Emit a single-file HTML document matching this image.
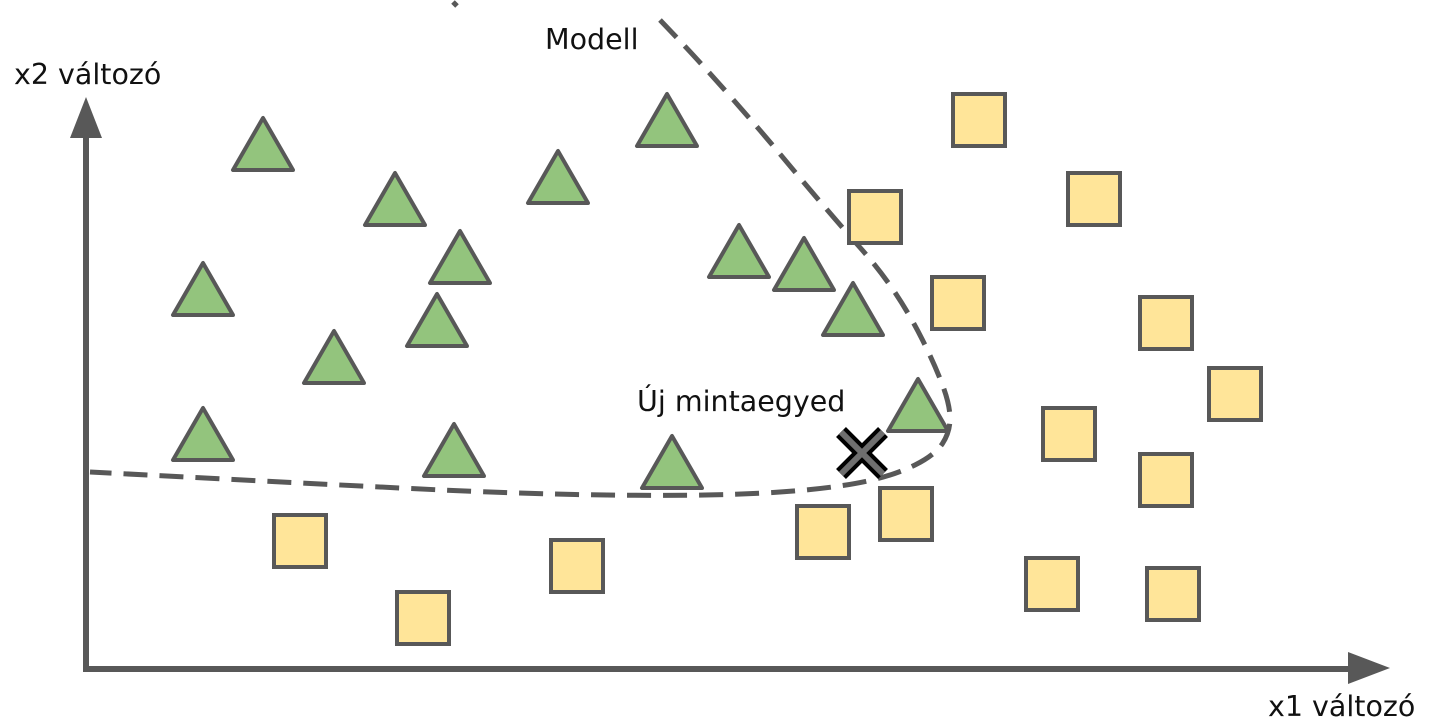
<!DOCTYPE html>
<html><head><meta charset="utf-8"><style>
html,body{margin:0;padding:0;background:#fff;}
svg{display:block;font-family:"DejaVu Sans","Liberation Sans",sans-serif;}
</style></head><body>
<svg id="chart" width="1439" height="728" viewBox="0 0 1439 728">
<g id="model-curve-layer"></g>
<g id="axes">
<line x1="86" y1="669" x2="86" y2="136" stroke="#585858" stroke-width="6"/>
<polygon points="86,97 70,138 102,138" fill="#585858"/>
<line x1="83" y1="669" x2="1350" y2="669" stroke="#585858" stroke-width="6"/>
<polygon points="1390,668 1348,652 1348,684" fill="#585858"/>
</g>
<g id="marks"></g>
<text x="14" y="84" font-size="28.5" fill="#111">x2 változó</text>
<text x="1268" y="716" font-size="28.5" fill="#111">x1 változó</text>
<text x="545" y="49" font-size="28.5" fill="#111">Modell</text>
<text x="637" y="411" font-size="28.5" fill="#111">Új mintaegyed</text>
</svg>
<script>
// data in chart units (origin at axis corner, y up)
const triX = [177, 309, 472, 581, 374, 117, 351, 248, 653, 718, 767, 832, 117, 368, 586];
const triY = [499, 444, 466, 523, 386, 354, 323, 286, 392, 379, 334, 238, 209, 193, 181];
const sqX = [893, 789, 1008, 872, 1080, 1149, 983, 1080, 820, 737, 966, 1087, 491, 214, 337];
const sqY = [549, 452, 470, 366, 346, 275, 235, 189, 155, 137, 85, 75, 103, 128, 51];
const newX = [776];
const newY = [216];
const curveX = [367, 371, 574, 614, 674, 714, 754, 794, 824, 849, 864, 864, 849, 809, 754, 674, 564, 414, 214, 4];
const curveY = [667, 663, 649, 607, 539, 491, 444, 399, 354, 304, 264, 237, 214, 194, 182, 175, 173, 176, 186, 197];

const X = v => 86 + v;
const Y = v => 669 - v;
const NS = 'http://www.w3.org/2000/svg';
const marks = document.getElementById('marks');
const cl = document.getElementById('model-curve-layer');

// model curve
let d = 'M' + X(curveX[0]) + ' ' + Y(curveY[0]) + ' L' + X(curveX[1]) + ' ' + Y(curveY[1]);
d += ' M' + X(curveX[2]) + ' ' + Y(curveY[2]);
for (let i = 3; i < curveX.length; i++) {
  const px = X(curveX[i-1]), py = Y(curveY[i-1]);
  const cx = X(curveX[i]), cy = Y(curveY[i]);
  if (i === 3) { d += ' L' + ((px+cx)/2) + ' ' + ((py+cy)/2); continue; }
  d += ' Q' + px + ' ' + py + ' ' + ((px+cx)/2) + ' ' + ((py+cy)/2);
}
d += ' L' + X(curveX[curveX.length-1]) + ' ' + Y(curveY[curveY.length-1]);
const path = document.createElementNS(NS, 'path');
path.setAttribute('d', d);
path.setAttribute('fill', 'none');
path.setAttribute('stroke', '#585858');
path.setAttribute('stroke-width', '5');
path.setAttribute('stroke-dasharray', '24 12');


cl.appendChild(path);

for (let i = 0; i < triX.length; i++) {
  const cx = X(triX[i]), by = Y(triY[i]);
  const p = document.createElementNS(NS, 'polygon');
  p.setAttribute('points', cx + ',' + (by - 52) + ' ' + (cx - 30) + ',' + by + ' ' + (cx + 30) + ',' + by);
  p.setAttribute('fill', '#93c47d');
  p.setAttribute('stroke', '#585858');
  p.setAttribute('stroke-width', '4');
  p.setAttribute('stroke-linejoin', 'round');
  
  
  marks.appendChild(p);
}
for (let i = 0; i < sqX.length; i++) {
  const cx = X(sqX[i]), cy = Y(sqY[i]);
  const r = document.createElementNS(NS, 'rect');
  r.setAttribute('x', cx - 26); r.setAttribute('y', cy - 26);
  r.setAttribute('width', 52); r.setAttribute('height', 52);
  r.setAttribute('fill', '#ffe599');
  r.setAttribute('stroke', '#585858');
  r.setAttribute('stroke-width', '4');
  
  
  marks.appendChild(r);
}
for (let i = 0; i < newX.length; i++) {
  const cx = X(newX[i]), cy = Y(newY[i]);
  const g = document.createElementNS(NS, 'g');
  
  
  const s = 21;
  [['#000', 14], ['#6e6e6e', 6]].forEach(([c, w]) => {
    [[-s, -s, s, s], [-s, s, s, -s]].forEach(a => {
      const l = document.createElementNS(NS, 'line');
      l.setAttribute('x1', cx + a[0]); l.setAttribute('y1', cy + a[1]);
      l.setAttribute('x2', cx + a[2]); l.setAttribute('y2', cy + a[3]);
      l.setAttribute('stroke', c); l.setAttribute('stroke-width', w);
      g.appendChild(l);
    });
  });
  marks.appendChild(g);
}
</script>
</body></html>
